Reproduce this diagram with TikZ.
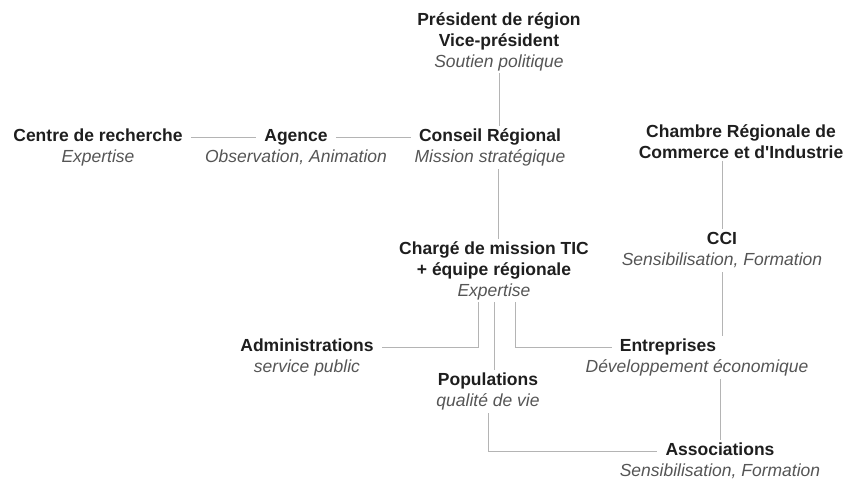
\documentclass[tikz,border=0pt]{standalone}
\usepackage{fontspec}
\setmainfont{Liberation Sans}
\usepackage{xcolor}
\definecolor{titrecol}{HTML}{1E1E1E}
\definecolor{rolecol}{HTML}{555555}
\definecolor{lienclr}{HTML}{B4B4B4}
\usetikzlibrary{positioning}

\begin{document}
\begin{tikzpicture}[x=1pt, y=-1pt,
		titre/.style={font=\fontsize{17.5}{21}\selectfont\bfseries, text=titrecol, inner xsep=8pt, inner ysep=2pt},
		un/.style={text height=13pt, text depth=4pt},
		role/.style={font=\fontsize{17.5}{21}\selectfont\itshape, text=rolecol, text height=13pt, text depth=4pt, inner xsep=8pt, inner ysep=2pt, below=0pt of #1},
		lien/.style={draw=lienclr, line width=0.9pt}]
		\useasboundingbox (0,0) rectangle (848,481);
		% niveau politique
		\node[titre, align=center] (pres) at (499,31) {Président de région\\Vice-président};
		\node[role=pres] (pres-r) {Soutien politique};
		\node[titre, un] (conseil) at (490,137) {Conseil Régional};
		\node[role=conseil] (conseil-r) {Mission stratégique};
		\node[titre, un] (agence) at (296,137) {Agence};
		\node[role=agence] (agence-r) {Observation, Animation};
		\node[titre, un] (centre) at (98,137) {Centre de recherche};
		\node[role=centre] (centre-r) {Expertise};
		% chambre de commerce
		\node[titre, align=center] (chambre) at (741,141.5) {Chambre Régionale de\\Commerce et d\textquotesingle Industrie};
		\node[titre, un] (cci) at (722,240) {CCI};
		\node[role=cci] (cci-r) {Sensibilisation, Formation};
		% equipe TIC et publics
		\node[titre, align=center] (charge) at (494,260) {Chargé de mission TIC\\+ équipe régionale};
		\node[role=charge] (charge-r) {Expertise};
		\node[titre, un] (admin) at (307,347) {Administrations};
		\node[role=admin] (admin-r) {service public};
		\node[titre, un] (popu) at (488,381) {Populations};
		\node[role=popu] (popu-r) {qualité de vie};
		\node[titre, un] (entre) at (668,347) {Entreprises};
		\node[role=entre, xshift=29pt] (entre-r) {Développement économique};
		\node[titre, un] (assoc) at (720,451) {Associations};
		\node[role=assoc] (assoc-r) {Sensibilisation, Formation};
		% liens
		\draw[lien] (pres-r.south) -- (pres-r.south |- conseil.north);
		\draw[lien] (centre) -- (agence);
		\draw[lien] (agence) -- (conseil);
		\draw[lien] ([xshift=8pt]conseil-r.south) -- ([xshift=8pt]conseil-r.south |- charge.north);
		\draw[lien] (cci |- chambre.south) -- (cci);
		\draw[lien] (cci-r) -- (cci-r |- entre.north);
		\draw[lien] (assoc |- entre-r.south) -- (assoc);
		\draw[lien] ([xshift=-16pt]charge-r.south) |- (admin);
		\draw[lien] (charge-r.south) -- (charge-r.south |- popu.north);
		\draw[lien] ([xshift=21pt]charge-r.south) |- (entre);
		\draw[lien] (popu-r.south) |- (assoc);
	\end{tikzpicture}
\end{document}
